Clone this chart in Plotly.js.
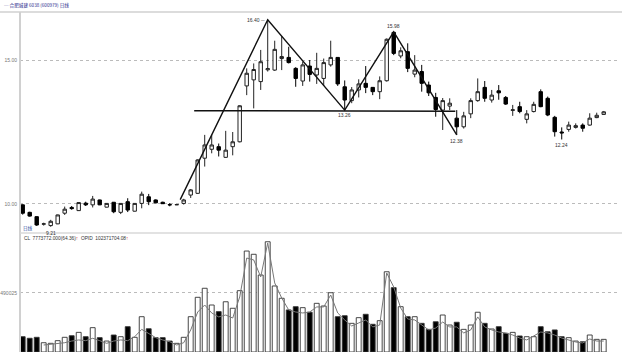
<!DOCTYPE html>
<html>
<head>
<meta charset="utf-8">
<script src="https://cdn.plot.ly/plotly-3.0.1.min.js"></script>
<style>html,body{margin:0;padding:0;background:#fff;}#chart{width:622px;height:352px;}</style>
</head>
<body>
<div id="chart"></div>
<script>
// ---- data ----
const openP  = [9.97,9.71,9.56,9.30,9.25,9.31,9.68,9.88,9.77,10.03,9.97,10.14,9.89,10.06,9.71,10.08,9.75,10.02,10.25,10.14,
10.06,9.98,9.97,10.02,10.31,10.37,11.59,11.90,11.99,11.62,11.99,12.16,14.10,14.31,14.25,14.66,14.65,15.05,15.09,14.71,
14.27,14.79,14.48,14.36,14.83,15.09,14.07,13.59,13.96,14.19,14.05,13.90,14.28,15.96,15.14,15.29,14.51,14.60,14.13,13.70,
13.26,13.40,12.98,12.68,13.13,13.59,14.05,13.61,13.93,13.70,13.25,13.38,12.94,13.21,13.90,13.67,13.01,12.50,12.59,12.66,
12.74,12.74,13.00,13.11];
const highP  = [9.99,9.73,9.57,9.35,9.45,9.63,9.91,9.93,10.06,10.08,10.28,10.15,10.03,10.07,10.03,10.20,10.03,10.43,10.35,10.16,
10.08,10.03,9.99,10.18,10.52,11.55,12.40,12.40,12.10,12.54,12.50,13.43,14.71,14.88,15.35,16.40,15.67,15.83,15.46,14.75,
14.94,15.00,15.25,15.05,15.67,15.10,14.29,14.06,14.33,14.79,14.06,14.43,15.75,15.98,15.44,15.58,15.17,14.83,14.25,13.86,
13.68,13.67,13.26,13.20,13.67,14.36,14.27,13.96,14.13,13.75,13.44,13.55,13.26,13.55,13.98,13.73,13.06,12.66,12.86,12.80,
12.80,13.15,13.17,13.23];
const lowP   = [9.63,9.56,9.24,9.25,9.21,9.30,9.62,9.80,9.76,9.93,9.88,9.96,9.88,9.68,9.65,9.72,9.74,9.85,9.96,10.02,
10.00,9.92,9.96,9.98,10.21,10.35,11.30,11.76,11.65,11.60,11.69,12.14,13.78,13.32,13.96,14.60,14.62,14.65,14.88,14.07,
14.10,14.25,14.17,14.10,14.77,14.10,13.26,13.50,13.70,13.85,13.78,13.64,14.25,15.17,15.06,14.58,14.40,13.90,13.75,13.03,
12.57,13.26,12.40,12.62,12.98,13.55,13.55,13.52,13.62,13.44,13.06,13.15,12.80,13.18,13.36,13.05,12.34,12.24,12.51,12.62,
12.51,12.72,12.98,13.09];
const closeP = [9.68,9.58,9.27,9.31,9.40,9.62,9.82,9.84,10.05,9.97,10.17,9.97,10.02,9.73,10.02,9.79,10.02,10.34,10.08,10.04,
10.01,9.97,9.98,10.14,10.49,11.53,12.05,12.05,11.87,11.87,12.16,13.41,14.54,14.67,14.94,14.70,15.37,15.12,14.91,14.36,
14.83,14.50,14.71,14.91,15.09,14.17,13.61,13.96,14.17,14.05,13.90,14.28,15.72,15.23,15.32,14.71,14.65,14.19,13.86,13.28,
13.59,13.50,12.68,13.06,13.59,13.90,13.67,13.78,13.86,13.47,13.27,13.21,13.13,13.46,13.38,13.09,12.51,12.47,12.74,12.72,
12.63,12.98,13.08,13.20];
const volume = [127000,114000,122000,77000,72000,94000,122000,135000,163000,127000,202000,119000,91000,141000,127000,210000,122000,293000,193000,119000,
119000,91000,72000,122000,293000,454000,529000,390000,335000,417000,363000,509000,838000,811000,639000,915000,548000,446000,349000,376000,
368000,330000,404000,382000,492000,293000,301000,238000,285000,313000,230000,260000,666000,534000,376000,293000,293000,238000,188000,251000,
307000,224000,247000,188000,224000,330000,238000,191000,210000,155000,163000,133000,127000,127000,210000,168000,183000,127000,119000,91000,
85000,141000,105000,105000];
const volLine = [null,null,null,58000,64000,72000,77000,91000,100000,94000,114000,94000,72000,91000,100000,94000,127000,188000,155000,119000,
100000,85000,58000,77000,183000,332000,390000,324000,291000,307000,282000,457000,780000,764000,623000,905000,573000,448000,349000,332000,
324000,332000,374000,374000,473000,324000,266000,216000,241000,266000,208000,224000,656000,540000,365000,274000,266000,224000,183000,199000,
249000,208000,208000,158000,183000,291000,208000,183000,166000,158000,141000,116000,100000,133000,166000,158000,141000,116000,100000,83000,
75000,108000,91000,91000];
const trendX = [22.5, 35, 46, 53, 62];
const trendY = [10.15, 16.40, 13.26, 15.98, 12.40];
const neckX = [24.5, 61.8];
const neckY = [13.24, 13.22];
const priceTicks = [10, 15];
const priceTickText = ["10.00", "15.00"];
const volTicks = [490025];
const volTickText = ["490025"];
const markIdx = [35, 53, 46, 62, 77, 4];
const markVal = [16.40, 15.98, 13.26, 12.40, 12.24, 9.21];
const markText = ["16.40 \u2500", "15.98", "13.26", "12.38", "12.24", "9.21"];
const titleText = "\u2500 \u5408\u80a5\u57ce\u5efa 6038 (600979) \u65e5\u7ebf";
const periodText = "\u65e5\u7ebf";
const infoText = "CL  7773772.000(64.36)<span style='color:#d00'>\u2191</span>  OPID  102371704.08<span style='color:#d00'>\u2191</span>";

// ---- build ----
const idx = openP.map((_, i) => i);
const barColors = idx.map(i => closeP[i] >= openP[i] ? '#ffffff' : '#000000');

const traces = [
  {type:'candlestick', x: idx, open: openP, high: highP, low: lowP, close: closeP,
   xaxis:'x', yaxis:'y', whiskerwidth:0, hoverinfo:'none',
   increasing:{line:{color:'#222', width:1}, fillcolor:'#ffffff'},
   decreasing:{line:{color:'#000', width:1}, fillcolor:'#000000'}},
  {type:'scatter', mode:'lines', x: trendX, y: trendY, xaxis:'x', yaxis:'y',
   line:{color:'#111', width:1.4}, hoverinfo:'none'},
  {type:'scatter', mode:'lines', x: neckX, y: neckY, xaxis:'x', yaxis:'y',
   line:{color:'#111', width:1.4}, hoverinfo:'none'},
  {type:'bar', x: idx, y: volume, xaxis:'x', yaxis:'y2',
   marker:{color: barColors, line:{color:'#333', width:0.9}}, hoverinfo:'none'},
  {type:'scatter', mode:'lines', x: idx, y: volLine, xaxis:'x', yaxis:'y2',
   line:{color:'#777', width:1}, hoverinfo:'none', connectgaps:false}
];

const markStyle = [
  {xanchor:'right', yanchor:'middle', xshift:-1, yshift:0},
  {xanchor:'center', yanchor:'bottom', xshift:0, yshift:1},
  {xanchor:'center', yanchor:'top', xshift:0, yshift:0},
  {xanchor:'center', yanchor:'top', xshift:0, yshift:-1},
  {xanchor:'center', yanchor:'top', xshift:0, yshift:-1},
  {xanchor:'center', yanchor:'top', xshift:0, yshift:-1}
];
const annotations = markIdx.map((m, k) => Object.assign({
  x: m, y: markVal[k], xref:'x', yref:'y', text: markText[k], showarrow:false,
  font:{family:'Liberation Sans, Arial, sans-serif', size:5, color:'#333'}
}, markStyle[k]));
annotations.push({xref:'paper', yref:'paper', x:-0.030, y:1.018, xanchor:'left', yanchor:'middle',
  text: titleText, showarrow:false, font:{family:'Noto Sans CJK SC, sans-serif', size:4.6, color:'#2b2b8c'}});
annotations.push({xref:'paper', yref:'paper', x:0.002, y:0.362, xanchor:'left', yanchor:'middle',
  text: periodText, showarrow:false, font:{family:'Noto Sans CJK SC, sans-serif', size:4.6, color:'#2b4ba0'}});
annotations.push({xref:'paper', yref:'paper', x:0.004, y:0.335, xanchor:'left', yanchor:'middle',
  text: infoText, showarrow:false, font:{family:'Liberation Sans, Arial, sans-serif', size:4.8, color:'#333'}});

const axisFont = {family:'Liberation Sans, Arial, sans-serif', size:5, color:'#777'};
const layout = {
  width:622, height:352,
  margin:{l:20, r:4, t:12, b:0, pad:0},
  paper_bgcolor:'#fff', plot_bgcolor:'#fff',
  showlegend:false, bargap:0.3,
  xaxis:{range:[-0.386, 85.04], showgrid:false, zeroline:false, showticklabels:false, ticks:'',
         showline:false, rangeslider:{visible:false}, fixedrange:true},
  yaxis:{domain:[0.353, 1], range:[9.028, 16.667], tickvals: priceTicks, ticktext: priceTickText,
         tickfont: axisFont, showgrid:true, gridcolor:'#bbb', griddash:'dot', gridwidth:1,
         zeroline:false, showline:false, ticks:'', ticklabelstandoff:2},
  yaxis2:{domain:[0, 0.35], range:[0, 987700], tickvals: volTicks, ticktext: volTickText,
          tickfont: axisFont, showgrid:true, gridcolor:'#bbb', griddash:'dot', gridwidth:1,
          zeroline:false, showline:false, ticks:'', ticklabelstandoff:2},
  shapes:[
    {type:'line', xref:'paper', yref:'paper', x0:0, x1:0, y0:0, y1:1, line:{color:'#d0d0d0', width:2}},
    {type:'line', xref:'paper', yref:'paper', x0:-0.034, x1:1.007, y0:1, y1:1, line:{color:'#d0d0d0', width:1.5}},
    {type:'line', xref:'paper', yref:'paper', x0:0, x1:1.007, y0:0.35, y1:0.35, line:{color:'#d8d8d8', width:1.5}}
  ],
  annotations: annotations
};

Plotly.newPlot('chart', traces, layout, {staticPlot:true, displayModeBar:false});
</script>
</body>
</html>
